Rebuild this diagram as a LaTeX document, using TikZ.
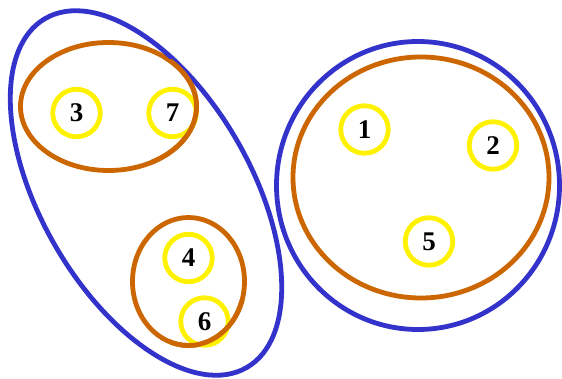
\documentclass[tikz,border=0pt]{standalone}
\usepackage{fontspec}
\setmainfont{Liberation Serif}
\begin{document}
\begin{tikzpicture}[x=1pt,y=-1pt,
  bluering/.style={draw={rgb,255:red,51;green,51;blue,204},line width=4.8pt},
  orangering/.style={draw={rgb,255:red,204;green,102;blue,0},line width=4.8pt},
  elem/.style={circle,draw=yellow,line width=4.8pt,minimum size=47.5pt,inner sep=0pt,
    font=\fontsize{27}{27}\selectfont\bfseries}]
\useasboundingbox (0,0) rectangle (562,379);
% orange groups
\draw[orangering] (108.5,106.5) ellipse[x radius=88,y radius=64];
\draw[orangering] (188.5,281.5) ellipse[x radius=56,y radius=64];
\draw[orangering] (421,177.5) ellipse[x radius=128,y radius=120.5];
% blue groups
\draw[bluering] (146,193) ellipse[x radius=201.5,y radius=105,rotate=-60];
\draw[bluering] (418,185.5) ellipse[x radius=141.5,y radius=144];
% elements
\node[elem] (n3) at (76.5,113) {3};
\node[elem] (n7) at (172.5,113) {7};
\node[elem] (n4) at (188.5,258) {4};
\node[elem] (n6) at (204.5,321.5) {6};
\node[elem] (n1) at (364.5,129.5) {1};
\node[elem] (n2) at (493,145.5) {2};
\node[elem] (n5) at (429,241.5) {5};
% orange over yellow where overlap
\begin{scope}
\clip (150,60) rectangle (250,170);
\draw[orangering] (108.5,106.5) ellipse[x radius=88,y radius=64];
\end{scope}
\begin{scope}
\clip (170,300) rectangle (260,360);
\draw[orangering] (188.5,281.5) ellipse[x radius=56,y radius=64];
\end{scope}
\end{tikzpicture}
\end{document}
